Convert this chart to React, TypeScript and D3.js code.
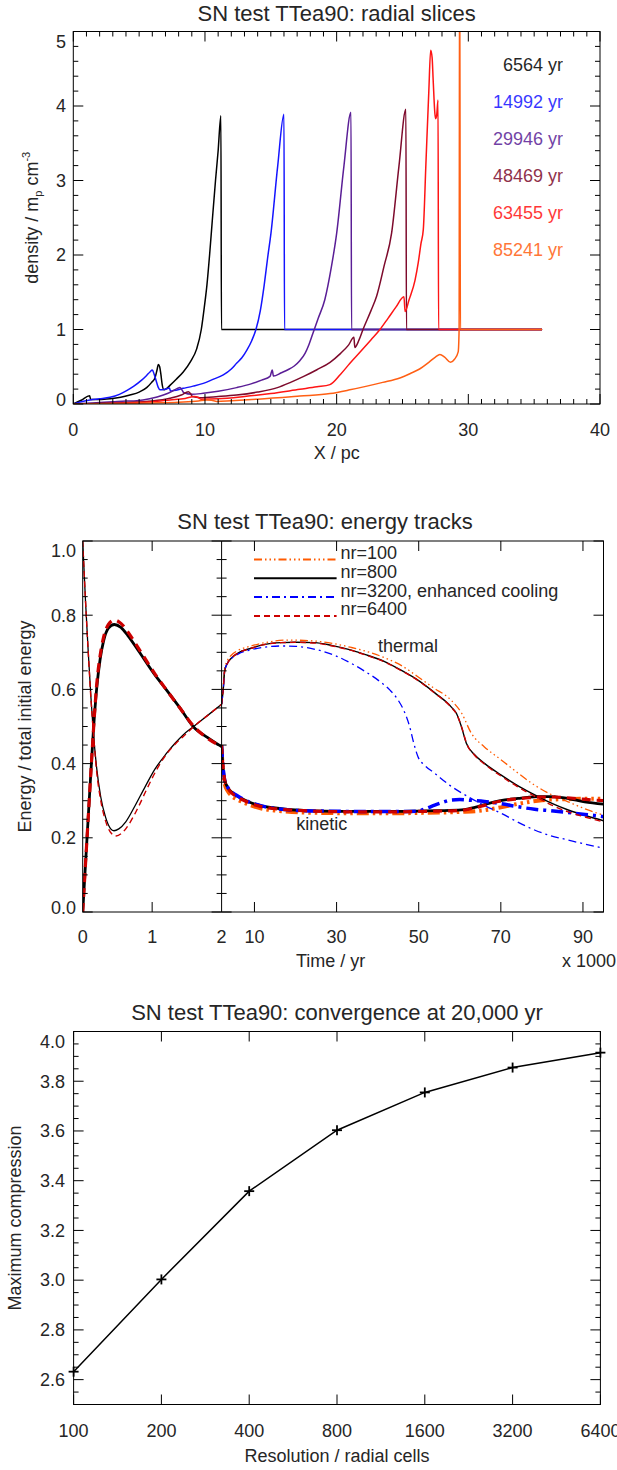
import React from "react";
import * as d3 from "d3";

const W = 617;
const H = 1470;
const FONT = "'Liberation Sans', Arial, Helvetica, sans-serif";
const TXT = "#262626";

// ---------------- Panel 1 data: radial density slices ----------------
const sliceLabels = ["6564 yr", "14992 yr", "29946 yr", "48469 yr", "63455 yr", "85241 yr"];
const sliceColors = ["#000000", "#1414ff", "#5a1e96", "#7d0a2c", "#ff1414", "#ff5f14"];
const radiusTicks = [0, 10, 20, 30, 40];
const densityTicks = [0, 1, 2, 3, 4, 5];

const slice6564: [number, number][] = [
  [0, 0], [0.6, 0.05], [1.24, 0.11], [1.32, 0.06], [2, 0.06], [2.8, 0.07], [3.6, 0.09], [4.3, 0.12],
  [5, 0.16], [5.57, 0.22], [5.95, 0.29], [6.2, 0.35], [6.35, 0.45], [6.46, 0.53], [6.56, 0.5],
  [6.65, 0.4], [6.75, 0.26], [6.89, 0.19], [7.1, 0.21], [7.34, 0.25], [7.8, 0.33], [8.35, 0.43],
  [8.9, 0.57], [9.37, 0.74], [9.72, 1.0], [9.95, 1.3], [10.15, 1.6], [10.35, 2.0], [10.55, 2.45],
  [10.8, 3.0], [11.0, 3.4], [11.21, 3.87], [11.25, 1.0], [35.6, 1.0],
];
const slice14992: [number, number][] = [
  [0, 0], [0.6, 0.03], [1.27, 0.055], [2.0, 0.07], [2.79, 0.09], [3.5, 0.13], [4.05, 0.18],
  [4.6, 0.24], [5.19, 0.32], [5.55, 0.38], [5.82, 0.43], [6.0, 0.456], [6.14, 0.4], [6.28, 0.32],
  [6.46, 0.22], [6.58, 0.19], [6.96, 0.197], [7.3, 0.215], [7.38, 0.175], [7.6, 0.18], [8.35, 0.21],
  [9.1, 0.24], [9.87, 0.277], [10.6, 0.33], [11.39, 0.39], [12.0, 0.47], [12.4, 0.546], [12.8, 0.62],
  [13.17, 0.72], [13.55, 0.85], [13.87, 1.0], [14.2, 1.25], [14.5, 1.6], [14.75, 1.95], [15.01, 2.29],
  [15.52, 3.19], [16.0, 3.89], [16.04, 1.0], [35.6, 1.0],
];
const slice29946: [number, number][] = [
  [0, 0], [1, 0.01], [2, 0.02], [3, 0.03], [4, 0.04], [4.81, 0.045], [5.8, 0.07], [6.84, 0.12],
  [7.5, 0.17], [7.9, 0.21], [8.1, 0.22], [8.25, 0.19], [8.4, 0.15], [9, 0.13], [9.87, 0.143],
  [11, 0.17], [12.4, 0.22], [13.5, 0.27], [14.3, 0.32], [14.94, 0.37], [15.11, 0.456], [15.2, 0.375],
  [15.8, 0.42], [16.3, 0.46], [16.78, 0.51], [17.2, 0.58], [17.6, 0.68], [17.9, 0.8], [18.2, 0.95],
  [18.6, 1.15], [19.1, 1.4], [19.6, 1.84], [20.0, 2.29], [20.55, 3.19], [21.09, 3.915], [21.13, 1.0],
  [35.6, 1.0],
];
const slice48469: [number, number][] = [
  [0, 0], [2, 0.01], [4, 0.02], [6, 0.04], [7.34, 0.077], [8.2, 0.12], [8.74, 0.165], [8.9, 0.14],
  [9.05, 0.1], [9.62, 0.085], [11, 0.1], [12.4, 0.12], [14, 0.16], [15.5, 0.22], [16.5, 0.29],
  [17.5, 0.37], [18.5, 0.46], [19.5, 0.56], [20.3, 0.68], [20.9, 0.79], [21.31, 0.895], [21.38, 0.76],
  [21.7, 0.86], [22.0, 1.0], [22.6, 1.25], [23.04, 1.45], [23.6, 1.85], [24.17, 2.29], [24.73, 3.19],
  [25.26, 3.955], [25.3, 1.0], [35.6, 1.0],
];
const slice63455: [number, number][] = [
  [0, 0], [2, 0.005], [4, 0.015], [6, 0.03], [7.34, 0.054], [8.5, 0.075], [9.2, 0.1], [9.45, 0.09],
  [9.7, 0.065], [11, 0.07], [13, 0.1], [15, 0.14], [17.2, 0.197], [18.5, 0.23], [19.49, 0.26],
  [20.3, 0.4], [21.01, 0.546], [21.8, 0.7], [22.6, 0.86], [23.29, 1.0], [23.9, 1.15], [24.5, 1.3],
  [25.11, 1.44], [25.2, 1.24], [25.5, 1.4], [25.95, 1.66], [26.2, 1.9], [26.4, 2.15], [26.58, 2.34],
  [26.78, 3.23], [27.0, 4.2], [27.14, 4.75], [27.25, 4.65], [27.33, 4.35], [27.46, 3.9], [27.52, 3.83],
  [27.6, 3.88], [27.7, 4.08], [27.74, 1.0], [35.6, 1.0],
];
const slice85241: [number, number][] = [
  [0, 0], [3, 0.005], [6, 0.015], [8, 0.025], [9.5, 0.04], [10.1, 0.055], [10.5, 0.05], [10.9, 0.035],
  [12, 0.045], [14, 0.065], [17.2, 0.107], [19.5, 0.14], [21, 0.19], [22.3, 0.24], [23.5, 0.29],
  [24.8, 0.35], [25.6, 0.41], [26.3, 0.47], [27.0, 0.56], [27.5, 0.63], [27.84, 0.665], [28.2, 0.63],
  [28.65, 0.56], [28.95, 0.6], [29.23, 0.7], [29.3, 1.0], [29.34, 6.5], [29.4, 1.0], [35.6, 1.0],
];
const slices = [slice6564, slice14992, slice29946, slice48469, slice63455, slice85241];

// ---------------- Panel 2 data: energy tracks ----------------
const energyLegend = ["nr=100", "nr=800", "nr=3200, enhanced cooling", "nr=6400"];
const energyColors = ["#ff5a00", "#000000", "#0000ff", "#cc0000"];
const earlyTicks = [0, 1, 2];
const lateTicks = [10, 30, 50, 70, 90];
const energyTicks = [0, 0.2, 0.4, 0.6, 0.8, 1.0];

const thermal800Early: [number, number][] = [
  [0, 1.0], [0.04, 0.84], [0.08, 0.7], [0.12, 0.575], [0.153, 0.486], [0.2, 0.39], [0.26, 0.31],
  [0.33, 0.255], [0.4, 0.225], [0.45, 0.219], [0.52, 0.224], [0.62, 0.243], [0.75, 0.285], [0.9, 0.338],
  [1.04, 0.385], [1.2, 0.426], [1.33, 0.455], [1.45, 0.478], [1.593, 0.4995], [1.8, 0.53], [2.0, 0.56],
];
const kinetic800Early: [number, number][] = [
  [0, 0], [0.05, 0.16], [0.1, 0.32], [0.153, 0.486], [0.2, 0.6], [0.25, 0.68], [0.3, 0.73],
  [0.37, 0.765], [0.455, 0.775], [0.55, 0.767], [0.65, 0.745], [0.8, 0.705], [1.04, 0.639], [1.2, 0.6],
  [1.4, 0.55], [1.593, 0.4995], [1.8, 0.47], [2.0, 0.4456],
];
const thermal6400Early: [number, number][] = [
  [0, 1.0], [0.04, 0.84], [0.08, 0.7], [0.12, 0.57], [0.155, 0.48], [0.2, 0.38], [0.26, 0.3],
  [0.33, 0.245], [0.4, 0.215], [0.48, 0.205], [0.56, 0.212], [0.66, 0.235], [0.78, 0.275], [0.92, 0.33],
  [1.06, 0.382], [1.2, 0.424], [1.35, 0.456], [1.5, 0.482], [1.6, 0.5], [1.8, 0.53], [2.0, 0.56],
];
const kinetic6400Early: [number, number][] = [
  [0, 0], [0.05, 0.16], [0.1, 0.32], [0.155, 0.49], [0.2, 0.61], [0.25, 0.69], [0.3, 0.74],
  [0.37, 0.775], [0.46, 0.787], [0.55, 0.778], [0.65, 0.755], [0.8, 0.712], [1.04, 0.642], [1.2, 0.6],
  [1.4, 0.55], [1.6, 0.5], [1.8, 0.468], [2.0, 0.446],
];

const thermal100Late: [number, number][] = [
  [2, 0.56], [2.4, 0.61], [2.75, 0.655], [3.5, 0.68], [4.36, 0.692], [6, 0.705], [9.2, 0.717],
  [12.5, 0.726], [18.2, 0.733], [24, 0.731], [29, 0.724], [33.6, 0.713], [38, 0.7], [42, 0.684],
  [46, 0.663], [49.8, 0.634], [53.5, 0.605], [57.9, 0.571], [60.5, 0.535], [62.8, 0.482], [66, 0.445],
  [70.1, 0.41], [74, 0.376], [78.2, 0.342], [82, 0.318], [86.4, 0.297], [90.5, 0.278], [95, 0.261],
];
const kinetic100Late: [number, number][] = [
  [2, 0.44], [2.2, 0.4], [2.5, 0.365], [2.75, 0.345], [3.5, 0.326], [4.36, 0.314], [6, 0.302],
  [7.6, 0.294], [9.5, 0.286], [11.7, 0.279], [14.5, 0.274], [17.4, 0.271], [22, 0.268], [27, 0.267],
  [33.6, 0.266], [40, 0.266], [45, 0.266], [49.8, 0.267], [55, 0.268], [60.4, 0.27], [64, 0.272],
  [67, 0.276], [70, 0.282], [73, 0.289], [76, 0.295], [79, 0.3], [82, 0.303], [86, 0.304], [90, 0.305],
  [95, 0.305],
];
const thermal800Late: [number, number][] = [
  [2, 0.56], [2.4, 0.6], [2.75, 0.65], [3.5, 0.672], [4.36, 0.684], [6, 0.698], [9.2, 0.711],
  [12, 0.72], [16.5, 0.726], [20, 0.727], [24.7, 0.726], [29, 0.718], [33.6, 0.706], [37.5, 0.692],
  [41.7, 0.675], [45.5, 0.653], [49.8, 0.625], [54, 0.59], [57.9, 0.553], [59.2, 0.535], [60.4, 0.4995],
  [61.6, 0.455], [63.5, 0.425], [66.1, 0.4], [70.1, 0.369], [74.5, 0.338], [79.1, 0.311], [83, 0.29],
  [86.4, 0.275], [90.5, 0.26], [95, 0.246],
];
const kinetic800Late: [number, number][] = [
  [2, 0.45], [2.2, 0.41], [2.5, 0.375], [2.75, 0.356], [3.5, 0.336], [4.36, 0.324], [6, 0.311],
  [7.6, 0.302], [9.5, 0.293], [11.7, 0.286], [14.5, 0.281], [17.4, 0.277], [22, 0.274], [27, 0.272],
  [33.6, 0.271], [40, 0.271], [45, 0.271], [49.8, 0.272], [55, 0.273], [60.4, 0.275], [62.5, 0.279],
  [64.4, 0.284], [66.5, 0.291], [68.5, 0.297], [71, 0.302], [74.2, 0.306], [76.5, 0.309], [79.1, 0.311],
  [82, 0.311], [85, 0.308], [88, 0.302], [90.4, 0.297], [95, 0.291],
];
const thermal3200Late: [number, number][] = [
  [2, 0.56], [2.4, 0.6], [2.75, 0.65], [3.5, 0.672], [4.36, 0.683], [6, 0.695], [9.2, 0.707],
  [12.5, 0.714], [16.5, 0.717], [20, 0.716], [25.5, 0.706], [29.5, 0.692], [33.6, 0.67], [37, 0.648],
  [40.1, 0.625], [43, 0.598], [45, 0.571], [46.5, 0.54], [47.8, 0.4995], [48.8, 0.455], [49.8, 0.419],
  [51.5, 0.395], [53.9, 0.374], [57.5, 0.342], [62, 0.311], [66, 0.287], [70.1, 0.266], [74, 0.243],
  [78.2, 0.221], [82, 0.206], [86.4, 0.194], [90.5, 0.183], [95, 0.172],
];
const kinetic3200Late: [number, number][] = [
  [2, 0.45], [2.2, 0.41], [2.5, 0.375], [2.75, 0.356], [3.5, 0.336], [4.36, 0.325], [6, 0.312],
  [7.6, 0.302], [9.5, 0.293], [11.7, 0.286], [14.5, 0.28], [17.4, 0.276], [22, 0.273], [27, 0.272],
  [33.6, 0.271], [40, 0.271], [45, 0.271], [49.8, 0.272], [52, 0.28], [53.9, 0.288], [56, 0.296],
  [57.9, 0.302], [60, 0.303], [62.8, 0.301], [66, 0.298], [70.1, 0.292], [74, 0.284], [78.2, 0.277],
  [82, 0.273], [86.4, 0.268], [90.5, 0.263], [95, 0.257],
];
const thermal6400Late: [number, number][] = [
  [2, 0.56], [2.4, 0.6], [2.75, 0.65], [3.5, 0.672], [4.36, 0.684], [6, 0.698], [9.2, 0.711],
  [12, 0.72], [16.5, 0.726], [20, 0.727], [24.7, 0.725], [29, 0.717], [33.6, 0.705], [37.5, 0.691],
  [41.7, 0.674], [45.5, 0.652], [49.8, 0.624], [54, 0.589], [57.9, 0.552], [59.3, 0.532], [60.5, 0.497],
  [61.7, 0.453], [63.5, 0.424], [66.1, 0.398], [70.1, 0.366], [74.5, 0.335], [79.1, 0.307], [83, 0.285],
  [86.4, 0.27], [90.5, 0.256], [95, 0.243],
];
const kinetic6400Late: [number, number][] = [
  [2, 0.45], [2.2, 0.41], [2.5, 0.375], [2.75, 0.356], [3.5, 0.335], [4.36, 0.322], [6, 0.309],
  [7.6, 0.3], [9.5, 0.291], [11.7, 0.284], [14.5, 0.279], [17.4, 0.276], [22, 0.273], [27, 0.271],
  [33.6, 0.27], [40, 0.27], [45, 0.27], [49.8, 0.271], [55, 0.272], [60.4, 0.274], [63, 0.279],
  [65.5, 0.286], [68, 0.294], [71, 0.301], [74.2, 0.305], [77, 0.308], [80, 0.31], [83, 0.31],
  [86, 0.308], [90, 0.304], [95, 0.3],
];

// ---------------- Panel 3 data: convergence ----------------
const resolution = [100, 200, 400, 800, 1600, 3200, 6400];
const maxCompression = [2.632, 3.003, 3.358, 3.603, 3.755, 3.855, 3.915];
const compressionTicks = [2.6, 2.8, 3.0, 3.2, 3.4, 3.6, 3.8, 4.0];

// ---------------- geometry ----------------
const P1 = { x0: 73.3, x1: 600, y0: 31.5, y1: 404 };
const P2 = { x0: 82.7, xm: 221.6, x1: 603.5, y0: 541, y1: 912 };
const P3 = { x0: 73.6, x1: 600.4, y0: 1031.5, y1: 1404.5 };
const MAJ = 10;
const MIN = 5;

function steps(a: number, b: number, s: number) {
  const out: number[] = [];
  const n = Math.round((b - a) / s);
  for (let i = 0; i <= n; i++) out.push(+(a + i * s).toFixed(6));
  return out;
}

const clampLabel = (y: number, top: number, bottom: number) => Math.min(Math.max(y, top + 10), bottom - 4);

// dash styles
const DASH_100_THIN = "8,3,1.5,3,1.5,3,1.5,3";
const DASH_100_THICK = "12,4,2.5,4,2.5,4,2.5,4";
const DASH_3200_THIN = "8,4,2,4";
const DASH_3200_THICK = "12,5,3,5";
const DASH_6400_THIN = "6,4";
const DASH_6400_THICK = "9,6";

export default function App() {
  // panel 1 scales
  const x1 = d3.scaleLinear().domain([0, 40]).range([P1.x0, P1.x1]);
  const y1 = d3.scaleLinear().domain([0, 5]).range([P1.y1, P1.y0]);
  const line1 = d3
    .line<[number, number]>()
    .x((d) => x1(d[0]))
    .y((d) => y1(d[1]))
    .curve(d3.curveMonotoneX);

  // panel 2 scales
  const xe = d3.scaleLinear().domain([0, 2]).range([P2.x0, P2.xm]);
  const xl = d3.scaleLinear().domain([2, 95]).range([P2.xm, P2.x1]);
  const y2 = d3.scaleLinear().domain([0, 1]).range([P2.y1, P2.y0]);
  const lineE = d3
    .line<[number, number]>()
    .x((d) => xe(d[0]))
    .y((d) => y2(d[1]))
    .curve(d3.curveMonotoneX);
  const lineL = d3
    .line<[number, number]>()
    .x((d) => xl(d[0]))
    .y((d) => y2(d[1]))
    .curve(d3.curveMonotoneX);

  // panel 3 scales
  const x3 = d3.scaleLog().base(2).domain([100, 6400]).range([P3.x0, P3.x1]);
  const y3 = d3.scaleLinear().domain([2.5, 4.0]).range([P3.y1, P3.y0]);
  const line3 = d3
    .line<number>()
    .x((_, i) => x3(resolution[i]))
    .y((d) => y3(d));

  const f1 = d3.format(".1f");

  const earlySeries = [
    { d: thermal800Early, c: energyColors[1], w: 1.3, dash: undefined as string | undefined },
    { d: kinetic800Early, c: energyColors[1], w: 2.8, dash: undefined },
    { d: thermal6400Early, c: energyColors[3], w: 1.4, dash: DASH_6400_THIN },
    { d: kinetic6400Early, c: energyColors[3], w: 3.2, dash: DASH_6400_THICK },
  ];
  const lateSeries = [
    { d: thermal100Late, c: energyColors[0], w: 1.3, dash: DASH_100_THIN as string | undefined },
    { d: kinetic100Late, c: energyColors[0], w: 4, dash: DASH_100_THICK },
    { d: thermal800Late, c: energyColors[1], w: 1.4, dash: undefined },
    { d: kinetic800Late, c: energyColors[1], w: 2.8, dash: undefined },
    { d: thermal3200Late, c: energyColors[2], w: 1.3, dash: DASH_3200_THIN },
    { d: kinetic3200Late, c: energyColors[2], w: 3.5, dash: DASH_3200_THICK },
    { d: thermal6400Late, c: energyColors[3], w: 1.4, dash: DASH_6400_THIN },
    { d: kinetic6400Late, c: energyColors[3], w: 3.2, dash: DASH_6400_THICK },
  ];
  const legendDash = [DASH_100_THIN, undefined, DASH_3200_THIN, DASH_6400_THIN];

  const txt = { fontFamily: FONT, fill: TXT };

  return (
    <svg
      width={W}
      height={H}
      viewBox={`0 0 ${W} ${H}`}
      style={{ position: "absolute", left: 0, top: 0, background: "#fff" }}
    >
      <rect x={0} y={0} width={W} height={H} fill="#fff" />
      <defs>
        <clipPath id="clip1">
          <rect x={P1.x0} y={P1.y0} width={P1.x1 - P1.x0} height={P1.y1 - P1.y0} />
        </clipPath>
        <clipPath id="clip2a">
          <rect x={P2.x0} y={P2.y0} width={P2.xm - P2.x0} height={P2.y1 - P2.y0} />
        </clipPath>
        <clipPath id="clip2b">
          <rect x={P2.xm} y={P2.y0} width={P2.x1 - P2.xm} height={P2.y1 - P2.y0} />
        </clipPath>
      </defs>

      {/* ================= Panel 1 ================= */}
      <text x={(P1.x0 + P1.x1) / 2} y={21} textAnchor="middle" fontSize={22} {...txt}>
        SN test TTea90: radial slices
      </text>
      <g clipPath="url(#clip1)">
        {slices.map((s, i) => (
          <path key={i} d={line1(s) || ""} fill="none" stroke={sliceColors[i]} strokeWidth={1.5} strokeLinejoin="round" />
        ))}
      </g>
      <rect x={P1.x0} y={P1.y0} width={P1.x1 - P1.x0} height={P1.y1 - P1.y0} fill="none" stroke="#000" strokeWidth={1} />
      {steps(0, 40, 1).map((v) => {
        const L = v % 10 === 0 ? MAJ : MIN;
        return (
          <g key={"p1x" + v}>
            <line x1={x1(v)} x2={x1(v)} y1={P1.y1} y2={P1.y1 - L} stroke="#000" />
            <line x1={x1(v)} x2={x1(v)} y1={P1.y0} y2={P1.y0 + L} stroke="#000" />
          </g>
        );
      })}
      {steps(0, 5, 0.2).map((v) => {
        const L = Math.abs(v - Math.round(v)) < 1e-6 ? MAJ : MIN;
        return (
          <g key={"p1y" + v}>
            <line x1={P1.x0} x2={P1.x0 + L} y1={y1(v)} y2={y1(v)} stroke="#000" />
            <line x1={P1.x1} x2={P1.x1 - L} y1={y1(v)} y2={y1(v)} stroke="#000" />
          </g>
        );
      })}
      {radiusTicks.map((v) => (
        <text key={"p1xl" + v} x={x1(v)} y={436} textAnchor="middle" fontSize={18} {...txt}>
          {v}
        </text>
      ))}
      {densityTicks.map((v) => (
        <text key={"p1yl" + v} x={66} y={clampLabel(y1(v), P1.y0, P1.y1) + 6.3} textAnchor="end" fontSize={18} {...txt}>
          {v}
        </text>
      ))}
      <text x={(P1.x0 + P1.x1) / 2} y={459} textAnchor="middle" fontSize={18} {...txt}>
        X / pc
      </text>
      <text transform={`translate(38,${(P1.y0 + P1.y1) / 2}) rotate(-90)`} textAnchor="middle" fontSize={18} {...txt}>
        density / m<tspan fontSize={11} dy={4}>p</tspan>
        <tspan dy={-4}> cm</tspan>
        <tspan fontSize={11} dy={-8}>-3</tspan>
      </text>
      {sliceLabels.map((s, i) => (
        <text key={s} x={563} y={70.7 + i * 37} textAnchor="end" fontSize={18} fontFamily={FONT} fill={sliceColors[i]} opacity={0.85}>
          {s}
        </text>
      ))}

      {/* ================= Panel 2 ================= */}
      <text x={325} y={529} textAnchor="middle" fontSize={22} {...txt}>
        SN test TTea90: energy tracks
      </text>
      <g clipPath="url(#clip2a)">
        {earlySeries.map((s, i) => (
          <path key={i} d={lineE(s.d) || ""} fill="none" stroke={s.c} strokeWidth={s.w} strokeDasharray={s.dash} strokeLinejoin="round" />
        ))}
      </g>
      <g clipPath="url(#clip2b)">
        {lateSeries.map((s, i) => (
          <path key={i} d={lineL(s.d) || ""} fill="none" stroke={s.c} strokeWidth={s.w} strokeDasharray={s.dash} strokeLinejoin="round" />
        ))}
      </g>
      <rect x={P2.x0} y={P2.y0} width={P2.x1 - P2.x0} height={P2.y1 - P2.y0} fill="none" stroke="#000" strokeWidth={1} />
      <line x1={P2.xm} x2={P2.xm} y1={P2.y0} y2={P2.y1} stroke="#000" strokeWidth={1} />
      {/* x ticks */}
      {[1].map((v) => (
        <g key={"p2e" + v}>
          <line x1={xe(v)} x2={xe(v)} y1={P2.y1} y2={P2.y1 - MAJ} stroke="#000" />
          <line x1={xe(v)} x2={xe(v)} y1={P2.y0} y2={P2.y0 + MAJ} stroke="#000" />
        </g>
      ))}
      {lateTicks.map((v) => (
        <g key={"p2l" + v}>
          <line x1={xl(v)} x2={xl(v)} y1={P2.y1} y2={P2.y1 - MAJ} stroke="#000" />
          <line x1={xl(v)} x2={xl(v)} y1={P2.y0} y2={P2.y0 + MAJ} stroke="#000" />
        </g>
      ))}
      {/* y ticks */}
      {steps(0, 1, 0.05).map((v) => {
        const major = Math.abs(v * 5 - Math.round(v * 5)) < 1e-6;
        const L = major ? MAJ : MIN;
        return (
          <g key={"p2y" + v}>
            <line x1={P2.x0} x2={P2.x0 + L} y1={y2(v)} y2={y2(v)} stroke="#000" />
            <line x1={P2.xm} x2={P2.xm - L} y1={y2(v)} y2={y2(v)} stroke="#000" />
            <line x1={P2.xm} x2={P2.xm + L} y1={y2(v)} y2={y2(v)} stroke="#000" />
            {major && <line x1={P2.x1} x2={P2.x1 - L} y1={y2(v)} y2={y2(v)} stroke="#000" />}
          </g>
        );
      })}
      {earlyTicks.map((v) => (
        <text key={"p2el" + v} x={xe(v)} y={943} textAnchor="middle" fontSize={18} {...txt}>
          {v}
        </text>
      ))}
      {lateTicks.map((v) => (
        <text key={"p2ll" + v} x={xl(v)} y={943} textAnchor="middle" fontSize={18} {...txt}>
          {v}
        </text>
      ))}
      {energyTicks.map((v) => (
        <text key={"p2yl" + v} x={76} y={clampLabel(y2(v), P2.y0, P2.y1) + 6.3} textAnchor="end" fontSize={18} {...txt}>
          {f1(v)}
        </text>
      ))}
      <text x={330.7} y={967} textAnchor="middle" fontSize={18} {...txt}>
        Time / yr
      </text>
      <text x={616} y={967} textAnchor="end" fontSize={18} {...txt}>
        x 1000
      </text>
      <text transform={`translate(31,${(P2.y0 + P2.y1) / 2}) rotate(-90)`} textAnchor="middle" fontSize={18} {...txt}>
        Energy / total initial energy
      </text>
      <text x={408} y={651.7} textAnchor="middle" fontSize={18} {...txt}>
        thermal
      </text>
      <text x={321.8} y={830} textAnchor="middle" fontSize={18} {...txt}>
        kinetic
      </text>
      {energyLegend.map((s, i) => {
        const yb = 559 + i * 18.8;
        return (
          <g key={s}>
            <line x1={254} x2={336.6} y1={yb + 0.5} y2={yb + 0.5} stroke={energyColors[i]} strokeWidth={2} strokeDasharray={legendDash[i]} />
            <text x={340.5} y={yb} fontSize={18} {...txt}>
              {s}
            </text>
          </g>
        );
      })}

      {/* ================= Panel 3 ================= */}
      <text x={(P3.x0 + P3.x1) / 2} y={1019.5} textAnchor="middle" fontSize={22} {...txt}>
        SN test TTea90: convergence at 20,000 yr
      </text>
      <rect x={P3.x0} y={P3.y0} width={P3.x1 - P3.x0} height={P3.y1 - P3.y0} fill="none" stroke="#000" strokeWidth={1} />
      {resolution.map((v) => (
        <g key={"p3x" + v}>
          <line x1={x3(v)} x2={x3(v)} y1={P3.y1} y2={P3.y1 - MAJ} stroke="#000" />
          <line x1={x3(v)} x2={x3(v)} y1={P3.y0} y2={P3.y0 + MAJ} stroke="#000" />
        </g>
      ))}
      {steps(2.5, 4.0, 0.05).map((v) => {
        const major = Math.abs(v * 5 - Math.round(v * 5)) < 1e-6;
        const L = major ? MAJ : MIN;
        return (
          <g key={"p3y" + v}>
            <line x1={P3.x0} x2={P3.x0 + L} y1={y3(v)} y2={y3(v)} stroke="#000" />
            <line x1={P3.x1} x2={P3.x1 - L} y1={y3(v)} y2={y3(v)} stroke="#000" />
          </g>
        );
      })}
      <path d={line3(maxCompression) || ""} fill="none" stroke="#000" strokeWidth={1.5} />
      {maxCompression.map((v, i) => (
        <g key={"m" + i} stroke="#000" strokeWidth={1.8}>
          <line x1={x3(resolution[i]) - 5} x2={x3(resolution[i]) + 5} y1={y3(v)} y2={y3(v)} />
          <line x1={x3(resolution[i])} x2={x3(resolution[i])} y1={y3(v) - 5} y2={y3(v) + 5} />
        </g>
      ))}
      {resolution.map((v) => (
        <text key={"p3xl" + v} x={x3(v)} y={1437} textAnchor="middle" fontSize={18} {...txt}>
          {v}
        </text>
      ))}
      {compressionTicks.map((v) => (
        <text key={"p3yl" + v} x={65} y={clampLabel(y3(v), P3.y0, P3.y1) + 6.3} textAnchor="end" fontSize={18} {...txt}>
          {f1(v)}
        </text>
      ))}
      <text x={(P3.x0 + P3.x1) / 2} y={1461.5} textAnchor="middle" fontSize={18} {...txt}>
        Resolution / radial cells
      </text>
      <text transform={`translate(21,${(P3.y0 + P3.y1) / 2}) rotate(-90)`} textAnchor="middle" fontSize={18} {...txt}>
        Maximum compression
      </text>
    </svg>
  );
}
